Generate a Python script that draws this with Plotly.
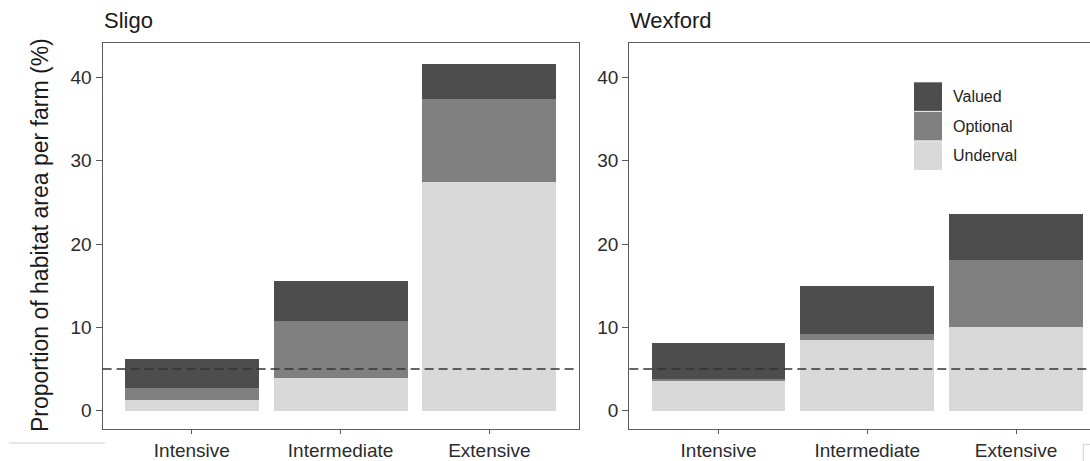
import plotly.graph_objects as go

# ---------------- data ----------------
categories = ["Intensive", "Intermediate", "Extensive"]
series_names = ["Underval", "Optional", "Valued"]  # bottom -> top in stack

sligo_underval = [1.25, 3.9, 27.4]
sligo_optional = [1.5, 6.9, 10.0]
sligo_valued = [3.45, 4.8, 4.2]

wexford_underval = [3.55, 8.45, 10.1]
wexford_optional = [0.25, 0.7, 8.0]
wexford_valued = [4.3, 5.8, 5.45]

panel_titles = ["Sligo", "Wexford"]
y_title = "Proportion of habitat area per farm (%)"
y_ticks = [0, 10, 20, 30, 40]
threshold = 5

# ---------------- styles ----------------
W, H = 1090, 461
colors = {"Underval": "#d9d9d9", "Optional": "#808080", "Valued": "#4d4d4d"}
FONT = "Liberation Sans, Arial, Helvetica, sans-serif"
TXT = "#2b2b2b"
FRAME = "#5a5a5a"


def px_x(p):
    return p / W


def px_y(p):
    return 1 - p / H


panels = [
    {"under": sligo_underval, "opt": sligo_optional, "val": sligo_valued},
    {"under": wexford_underval, "opt": wexford_optional, "val": wexford_valued},
]

fig = go.Figure()
for i, pdata in enumerate(panels):
    xa = "x" if i == 0 else "x2"
    ya = "y" if i == 0 else "y2"
    vals = {"Underval": pdata["under"], "Optional": pdata["opt"], "Valued": pdata["val"]}
    for name in series_names:
        fig.add_trace(go.Bar(
            x=categories, y=vals[name], name=name,
            marker=dict(color=colors[name], line=dict(width=0)),
            width=0.9, xaxis=xa, yaxis=ya, showlegend=False,
        ))

# axes geometry
left_dom = [px_x(102.6), px_x(578.6)]
right_dom = [px_x(629.3), 1.0]
ydom = [px_y(429), px_y(43.3)]
px_per_unit = (578.6 - 102.6) / 3.2
right_max = -0.6 + (W - 629.3) / px_per_unit

common_x = dict(
    type="category", categoryorder="array", categoryarray=categories,
    showgrid=False, zeroline=False, showline=True, linecolor=FRAME, linewidth=1.2,
    ticks="outside", ticklen=4, tickcolor=FRAME, tickwidth=1,
    tickfont=dict(family=FONT, size=19, color=TXT), fixedrange=True,
)
common_y = dict(
    range=[-2.2, 44.1], tickvals=y_ticks, showgrid=False, zeroline=False,
    showline=True, linecolor=FRAME, linewidth=1.2,
    ticks="outside", ticklen=6, tickcolor=FRAME, tickwidth=1,
    tickfont=dict(family=FONT, size=19, color=TXT), fixedrange=True,
)

fig.update_layout(
    width=W, height=H,
    margin=dict(l=0, r=0, t=0, b=0, autoexpand=False),
    paper_bgcolor="white", plot_bgcolor="white",
    barmode="stack", bargap=0.1,
    xaxis=dict(domain=left_dom, range=[-0.6, 2.6], mirror=True, anchor="y", **common_x),
    yaxis=dict(domain=ydom, mirror=True, anchor="x", **common_y),
    xaxis2=dict(domain=right_dom, range=[-0.6, right_max], mirror=True, anchor="y2", **common_x),
    yaxis2=dict(domain=ydom, mirror=False, anchor="x2", **common_y),
    font=dict(family=FONT, color=TXT),
)

shapes = []
# threshold dashed line in each panel
for xr, yr in (("x domain", "y"), ("x2 domain", "y2")):
    shapes.append(dict(type="line", xref=xr, yref=yr, x0=0, x1=1, y0=threshold, y1=threshold,
                       line=dict(color="#333333", width=1.5, dash="9px,5px"), layer="above"))

annotations = []
# panel titles
for title, xpos in zip(panel_titles, (102.6, 629.3)):
    annotations.append(dict(text=title, x=px_x(xpos - 1), y=px_y(21), xref="paper", yref="paper",
                            xanchor="left", yanchor="middle", showarrow=False,
                            font=dict(family=FONT, size=22, color="#1a1a1a")))
# y-axis title
annotations.append(dict(text=y_title, x=px_x(40), y=px_y(235), xref="paper", yref="paper",
                        xanchor="center", yanchor="middle", textangle=-90, showarrow=False,
                        font=dict(family=FONT, size=23, color="#1a1a1a")))

# legend (manual, large square keys like the reference)
legend_order = list(reversed(series_names))  # Valued, Optional, Underval
key_top, key_h, key_gap = 82.3, 28.6, 0.9
for k, name in enumerate(legend_order):
    t = key_top + k * (key_h + key_gap)
    shapes.append(dict(type="rect", xref="paper", yref="paper",
                       x0=px_x(914), x1=px_x(942), y0=px_y(t + key_h), y1=px_y(t),
                       fillcolor=colors[name], line=dict(width=0), layer="above"))
    annotations.append(dict(text=name, x=px_x(950.5), y=px_y(t + key_h / 2), xref="paper", yref="paper",
                            xanchor="left", yanchor="middle", showarrow=False,
                            font=dict(family=FONT, size=16, color="#222222")))

# faint crop artefacts from the source image
shapes.append(dict(type="line", xref="paper", yref="paper", x0=px_x(9), x1=px_x(105),
                   y0=px_y(443), y1=px_y(443), line=dict(color="#cfcfcf", width=1)))
shapes.append(dict(type="line", xref="paper", yref="paper", x0=px_x(1083.3), x1=px_x(1090),
                   y0=px_y(444.3), y1=px_y(444.3), line=dict(color="#cfcfcf", width=1)))
shapes.append(dict(type="line", xref="paper", yref="paper", x0=px_x(1083.3), x1=px_x(1083.3),
                   y0=px_y(444.3), y1=0, line=dict(color="#cfcfcf", width=1)))

fig.update_layout(shapes=shapes, annotations=annotations)

fig.write_html(
    "out.html",
    config={"displayModeBar": False},
    post_script="document.body.style.margin='0';document.body.style.overflow='hidden';",
)
